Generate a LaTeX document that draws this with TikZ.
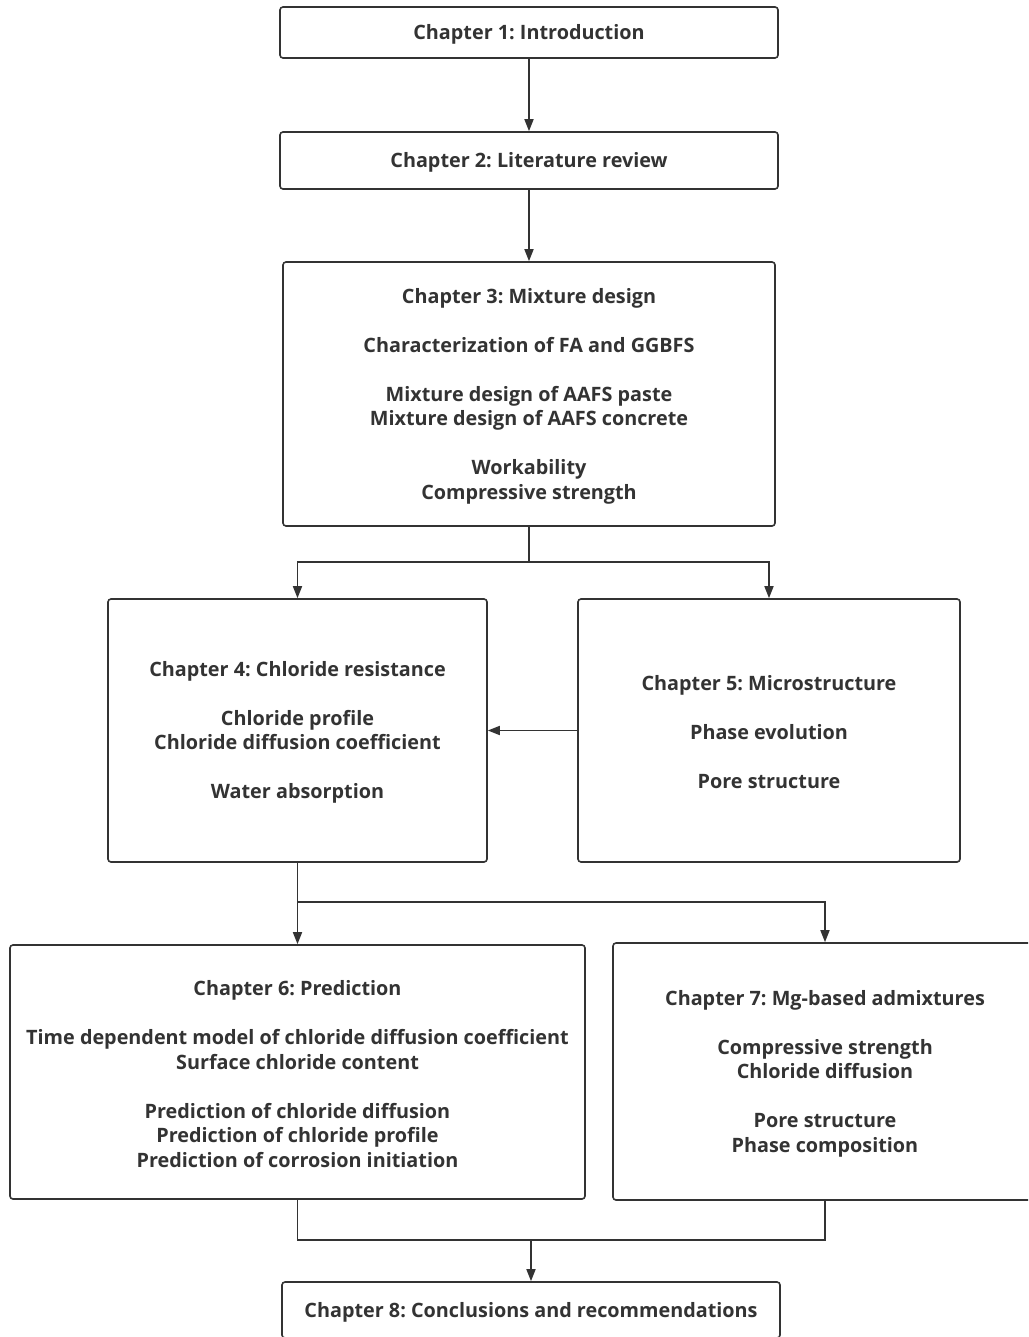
\documentclass[tikz,border=0pt]{standalone}
\usepackage{fontspec}
\setmainfont{Open Sans}
\frenchspacing
\usetikzlibrary{arrows.meta}
\definecolor{ink}{HTML}{333333}
\tikzset{
  box/.style={draw=ink, line width=1.6pt, rounded corners=3pt, fill=white, inner sep=0pt},
  txt/.style={text=ink, align=center, inner sep=0pt,
    font=\fontsize{19.8}{24.5}\selectfont\bfseries\frenchspacing},
  conn/.style={draw=ink, line width=1.6pt},
  arr/.style={conn, -{Triangle[length=12pt,width=9pt]}}
}
\begin{document}
\begin{tikzpicture}[x=1pt,y=-1pt]
\clip (0,0) rectangle (1028,1337);
\fill[white] (0,0) rectangle (1028,1337);

\node[box, minimum width=498, minimum height=51] (b1) at (529,32.5) {};
\node[box, minimum width=498, minimum height=57] (b2) at (529,160.5) {};
\node[box, minimum width=492, minimum height=264] (b3) at (529,394) {};
\node[box, minimum width=379, minimum height=263] (b4) at (297.5,730.5) {};
\node[box, minimum width=382, minimum height=263] (b5) at (769,730.5) {};
\node[box, minimum width=575, minimum height=254] (b6) at (297.5,1072) {};
\node[box, minimum width=424, minimum height=257] (b7) at (825,1071.5) {};
\node[box, minimum width=498, minimum height=56] (b8) at (531,1310) {};

\node[txt] (t1) at ([yshift=-2pt]b1.center) {Chapter 1: Introduction};
\node[txt] (t2) at ([yshift=-2pt]b2.center) {Chapter 2: Literature review};
\node[txt] (t3) at ([yshift=-2pt]b3.center) {Chapter 3: Mixture design\\[24.5pt]
Characterization of FA and GGBFS\\[24.5pt]
Mixture design of AAFS paste\\
Mixture design of AAFS concrete\\[24.5pt]
Workability\\
Compressive strength};
\node[txt] (t4) at ([yshift=-2pt]b4.center) {Chapter 4: Chloride resistance\\[24.5pt]
Chloride profile\\
Chloride diffusion coefficient\\[24.5pt]
Water absorption};
\node[txt] (t5) at ([yshift=-2pt]b5.center) {Chapter 5: Microstructure\\[24.5pt]
Phase evolution\\[24.5pt]
Pore structure};
\node[txt] (t6) at ([yshift=-2pt]b6.center) {Chapter 6: Prediction\\[24.5pt]
Time dependent model of chloride diffusion coefficient\\
Surface chloride content\\[24.5pt]
Prediction of chloride diffusion\\
Prediction of chloride profile\\
Prediction of corrosion initiation};
\node[txt] (t7) at ([yshift=-2pt]b7.center) {Chapter 7: Mg-based admixtures\\[24.5pt]
Compressive strength\\
Chloride diffusion\\[24.5pt]
Pore structure\\
Phase composition};
\node[txt] (t8) at ([yshift=-2pt]b8.center) {Chapter 8: Conclusions and recommendations};

\coordinate (j1) at (529,562);
\coordinate (j2) at (297.5,902);
\coordinate (j3) at (531,1240);

\draw[arr] (b1) -- (b2);
\draw[arr] (b2) -- (b3);
\draw[conn] (b3) -- (j1);
\draw[arr] (j1) -| (b4);
\draw[arr] (j1) -| (b5);
\draw[arr] (b5) -- (b4);
\draw[arr] (b4) -- (b6);
\draw[arr] (j2) -| (b7);
\draw[conn] (b6.south) |- (j3);
\draw[conn] (b7.south) |- (j3);
\draw[arr] (j3) -- (b8);
\end{tikzpicture}
\end{document}
